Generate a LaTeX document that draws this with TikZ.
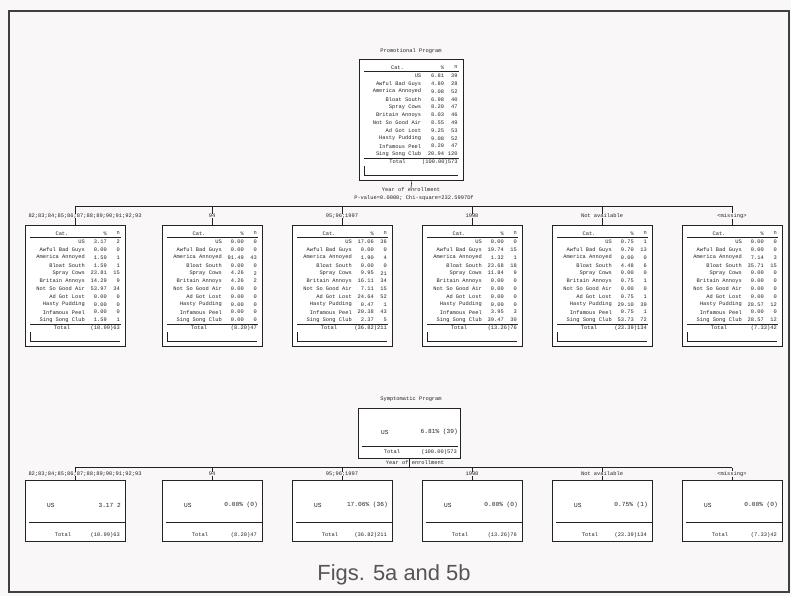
\documentclass[tikz,border=0pt]{standalone}
\usepackage{fontspec}
\setmonofont{Liberation Mono}
\newfontfamily\capfont{Liberation Sans}
\usetikzlibrary{calc}
\definecolor{bgcol}{RGB}{249,247,247}
\definecolor{ink}{RGB}{35,35,35}
\definecolor{capink}{RGB}{85,85,85}
\tikzset{
  tx/.style={font=\ttfamily\fontsize{5.4}{6}\selectfont, inner sep=0pt, text=ink},
  txb/.style={font=\ttfamily\fontsize{6.2}{7}\selectfont, inner sep=0pt, text=ink},
  bx/.style={draw=ink, line width=0.7pt, inner sep=0pt, anchor=north west, fill=white},
  rootbx/.style={bx, line width=1.4pt},
  rule/.style={draw=ink, line width=0.5pt},
  conn/.style={draw=ink, line width=0.6pt},
}
\def\catlist{US,Awful Bad Guys,America Annoyed,Bloat South,Spray Cows,Britain Annoys,Not So Good Air,Ad Got Lost,Hasty Pudding,Infamous Peel,Sing Song Club}
% #1 name, #2 left, #3 top, #4 width, #5 pct/n list, #6 total, #7 style
\newcommand\tblbox[7]{%
  \node[#7, minimum width=#4bp, minimum height=121bp] (#1) at (#2,#3) {};
  \pgfmathsetmacro\tbA{#2+0.60*#4}%
  \pgfmathsetmacro\tbB{#2+0.82*#4}%
  \pgfmathsetmacro\tbC{#2+0.95*#4}%
  \pgfmathsetmacro\tbH{#2+0.37*#4}%
  \node[tx] (#1-h1) at (\tbH,#3+8.5) {Cat.};
  \node[tx,anchor=east] (#1-h2) at (\tbB,#3+8.5) {\%};
  \node[tx,anchor=east] (#1-h3) at (\tbC,#3+8.5) {n};
  \draw[rule] (#2+5,#3+12) -- (#2+#4-4,#3+12);
  \foreach \nm [count=\i] in \catlist {\node[tx,anchor=east] (#1-a\i) at (\tbA,#3+9.2+\i*7.8) {\nm};}
  \foreach \p/\q [count=\i] in {#5} {%
    \node[tx,anchor=east] (#1-p\i) at (\tbB,#3+9.2+\i*7.8) {\p};
    \node[tx,anchor=east] (#1-q\i) at (\tbC,#3+9.2+\i*7.8) {\q};}
  \draw[rule] (#2+5,#3+99) -- (#2+#4-4,#3+99);
  \node[tx] (#1-t) at (\tbH,#3+103) {Total};
  \node[tx,anchor=east] (#1-tv) at (\tbC,#3+103) {#6};
  \draw[rule] (#2+5,#3+107) |- (#2+#4-5,#3+116);
}
% #1 name, #2 left, #3 top, #4 value, #5 total
\newcommand\smallbox[5]{%
  \node[bx, minimum width=100bp, minimum height=61bp] (#1) at (#2,#3) {};
  \node[txb,anchor=west] (#1-us) at (#2+22,#3+25) {US};
  \node[txb,anchor=east] (#1-v) at (#2+96,#3+25) {#4};
  \draw[rule] (#2+4,#3+42) -- (#2+100,#3+42);
  \node[tx] (#1-t) at (#2+38,#3+55) {Total};
  \node[tx,anchor=east] (#1-tv) at (#2+95,#3+55) {#5};
}
\begin{document}
\begin{tikzpicture}[x=1bp,y=-1bp]
\useasboundingbox (0,0) rectangle (791,596);
\fill[bgcol] (0,0) rectangle (791,596);
\draw[line width=1.6pt, draw=black!75] (9,11) rectangle (789,592);

% ---------- Fig 5a ----------
\node[tx] (title1) at (411,51) {Promotional Program};
\tblbox{r1}{359}{59}{104}{6.81/39,4.89/28,9.08/52,6.98/40,8.20/47,8.03/46,8.55/49,9.25/53,9.08/52,8.20/47,20.94/120}{(100.00)573}{rootbx}

\node[tx] (yoe1) at (411,190) {Year of enrollment};
\node[tx] (pv1) at (414,198.5) {P-value=0.0000; Chi-square=232.5997Df};
\draw[conn] (r1.south) -- (yoe1.north);
\coordinate (bus1L) at (75,206);
\coordinate (bus1R) at (732,206);
\draw[conn] (bus1L) -- (bus1R);

\tblbox{b11}{25}{225}{100}{3.17/2,0.00/0,1.59/1,1.59/1,23.81/15,14.29/9,53.97/34,0.00/0,0.00/0,0.00/0,1.59/1}{(10.99)63}{bx}
\tblbox{b12}{162}{225}{100}{0.00/0,0.00/0,91.49/43,0.00/0,4.26/2,4.26/2,0.00/0,0.00/0,0.00/0,0.00/0,0.00/0}{(8.20)47}{bx}
\tblbox{b13}{292}{225}{100}{17.06/36,0.00/0,1.90/4,0.00/0,9.95/21,16.11/34,7.11/15,24.64/52,0.47/1,20.38/43,2.37/5}{(36.82)211}{bx}
\tblbox{b14}{422}{225}{100}{0.00/0,19.74/15,1.32/1,23.68/18,11.84/9,0.00/0,0.00/0,0.00/0,0.00/0,3.95/3,39.47/30}{(13.26)76}{bx}
\tblbox{b15}{552}{225}{100}{0.75/1,9.70/13,0.00/0,4.48/6,0.00/0,0.75/1,0.00/0,0.75/1,29.10/39,0.75/1,53.73/72}{(23.39)134}{bx}
\tblbox{b16}{682}{225}{100}{0.00/0,0.00/0,7.14/3,35.71/15,0.00/0,0.00/0,0.00/0,0.00/0,28.57/12,0.00/0,28.57/12}{(7.33)42}{bx}

\node[tx] (l11) at (85,216) {82;83;84;85;86;87;88;89;90;91;92;93};
\node[tx] (l12) at (212,216) {94};
\node[tx] (l13) at (342,216) {95;96;1997};
\node[tx] (l14) at (472,216) {1998};
\node[tx] (l15) at (602,216) {Not available};
\node[tx] (l16) at (732,216) {<missing>};
\foreach \k in {1,...,6} {
  \draw[conn] (b1\k.north |- bus1L) -- (b1\k.north |- l1\k.north);
  \draw[conn] (b1\k.north |- l1\k.south) -- (b1\k.north);
}

% ---------- Fig 5b ----------
\node[tx] (title2) at (411,399) {Symptomatic Program};
\node[rootbx, minimum width=102bp, minimum height=50bp] (r2) at (358,408) {};
\node[txb,anchor=west] (r2-us) at (381,432) {US};
\node[txb,anchor=east] (r2-v) at (458,432) {6.81\% (39)};
\draw[rule] (362,446) -- (458,446);
\node[tx] (r2-t) at (392,452) {Total};
\node[tx,anchor=east] (r2-tv) at (457,452) {(100.00)573};

\node[tx] (yoe2) at (415,462.5) {Year of enrollment};
\coordinate (bus2L) at (75,467.5);
\coordinate (bus2R) at (732,467.5);
\draw[conn] (r2.south) -- (r2.south |- bus2L);
\draw[conn] (bus2L) -- (bus2R);

\smallbox{b21}{25}{480}{3.17 2}{(10.99)63}
\smallbox{b22}{162}{480}{0.00\% (0)}{(8.20)47}
\smallbox{b23}{292}{480}{17.06\% (36)}{(36.82)211}
\smallbox{b24}{422}{480}{0.00\% (0)}{(13.26)76}
\smallbox{b25}{552}{480}{0.75\% (1)}{(23.39)134}
\smallbox{b26}{682}{480}{0.00\% (0)}{(7.33)42}

\node[tx] (l21) at (85,474) {82;83;84;85;86;87;88;89;90;91;92;93};
\node[tx] (l22) at (212,474) {94};
\node[tx] (l23) at (342,474) {95;96;1997};
\node[tx] (l24) at (472,474) {1998};
\node[tx] (l25) at (602,474) {Not available};
\node[tx] (l26) at (732,474) {<missing>};
\foreach \k in {1,...,6} {
  \draw[conn] (b2\k.north |- bus2L) -- (b2\k.north |- l2\k.north);
  \draw[conn] (b2\k.north |- l2\k.south) -- (b2\k.north);
}

\node[font=\capfont\fontsize{22}{24}\selectfont, text=capink, inner sep=0pt] (cap) at (394,575) {Figs. 5a and 5b};
\end{tikzpicture}
\end{document}
